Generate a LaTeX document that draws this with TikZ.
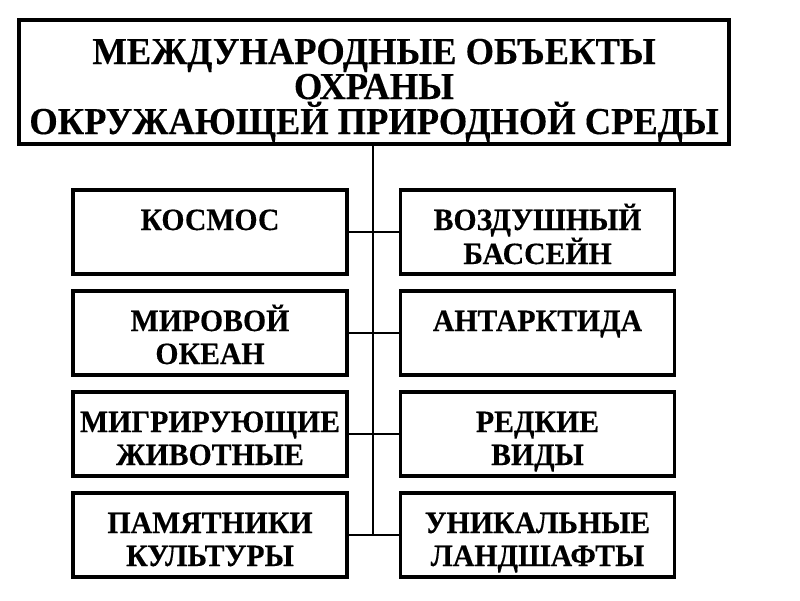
\documentclass[tikz,border=0pt]{standalone}
\usepackage{fontspec}
\setmainfont[FakeStretch=0.96,FakeBold=0.3]{Liberation Serif}
\newcommand{\smallbox}[1]{\parbox[c][84pt][t]{274pt}{\centering\fontsize{31}{33}\selectfont\bfseries\rule{0pt}{40pt}#1}}
\newcommand{\bigbox}[1]{\parbox[c][124pt][t]{710pt}{\centering\fontsize{38}{35}\selectfont\bfseries\rule{0pt}{44pt}#1}}
\tikzset{
  framebox/.style={draw=black, line width=3.2pt, inner sep=0pt, fill=white},
  conn/.style={draw=black, line width=2.6pt},
  trunk/.style={draw=black, line width=1.8pt}
}
\begin{document}
\begin{tikzpicture}[x=1pt,y=-1pt]
\useasboundingbox[fill=white] (0,0) rectangle (800,600);
\node[framebox] (top) at (374,82) {\bigbox{МЕЖДУНАРОДНЫЕ ОБЪЕКТЫ\\ОХРАНЫ\\ОКРУЖАЮЩЕЙ ПРИРОДНОЙ СРЕДЫ}};
\coordinate (j) at (373,535);
\coordinate (t) at (373,144);
\draw[trunk] (t) -- (j);
\node[framebox] (l1) at (210,232) {\smallbox{КОСМОС}};
\node[framebox] (r1) at (537.5,232) {\smallbox{ВОЗДУШНЫЙ\\БАССЕЙН}};
\node[framebox] (l2) at (210,333) {\smallbox{МИРОВОЙ\\ОКЕАН}};
\node[framebox] (r2) at (537.5,333) {\smallbox{АНТАРКТИДА}};
\node[framebox] (l3) at (210,434) {\smallbox{МИГРИРУЮЩИЕ\\ЖИВОТНЫЕ}};
\node[framebox] (r3) at (537.5,434) {\smallbox{РЕДКИЕ\\ВИДЫ}};
\node[framebox] (l4) at (210,535) {\smallbox{ПАМЯТНИКИ\\КУЛЬТУРЫ}};
\node[framebox] (r4) at (537.5,535) {\smallbox{УНИКАЛЬНЫЕ\\ЛАНДШАФТЫ}};
\draw[conn] (l1.east) -- (r1.west);
\draw[conn] (l2.east) -- (r2.west);
\draw[conn] (l3.east) -- (r3.west);
\draw[conn] (l4.east) -- (r4.west);
\end{tikzpicture}
\end{document}
